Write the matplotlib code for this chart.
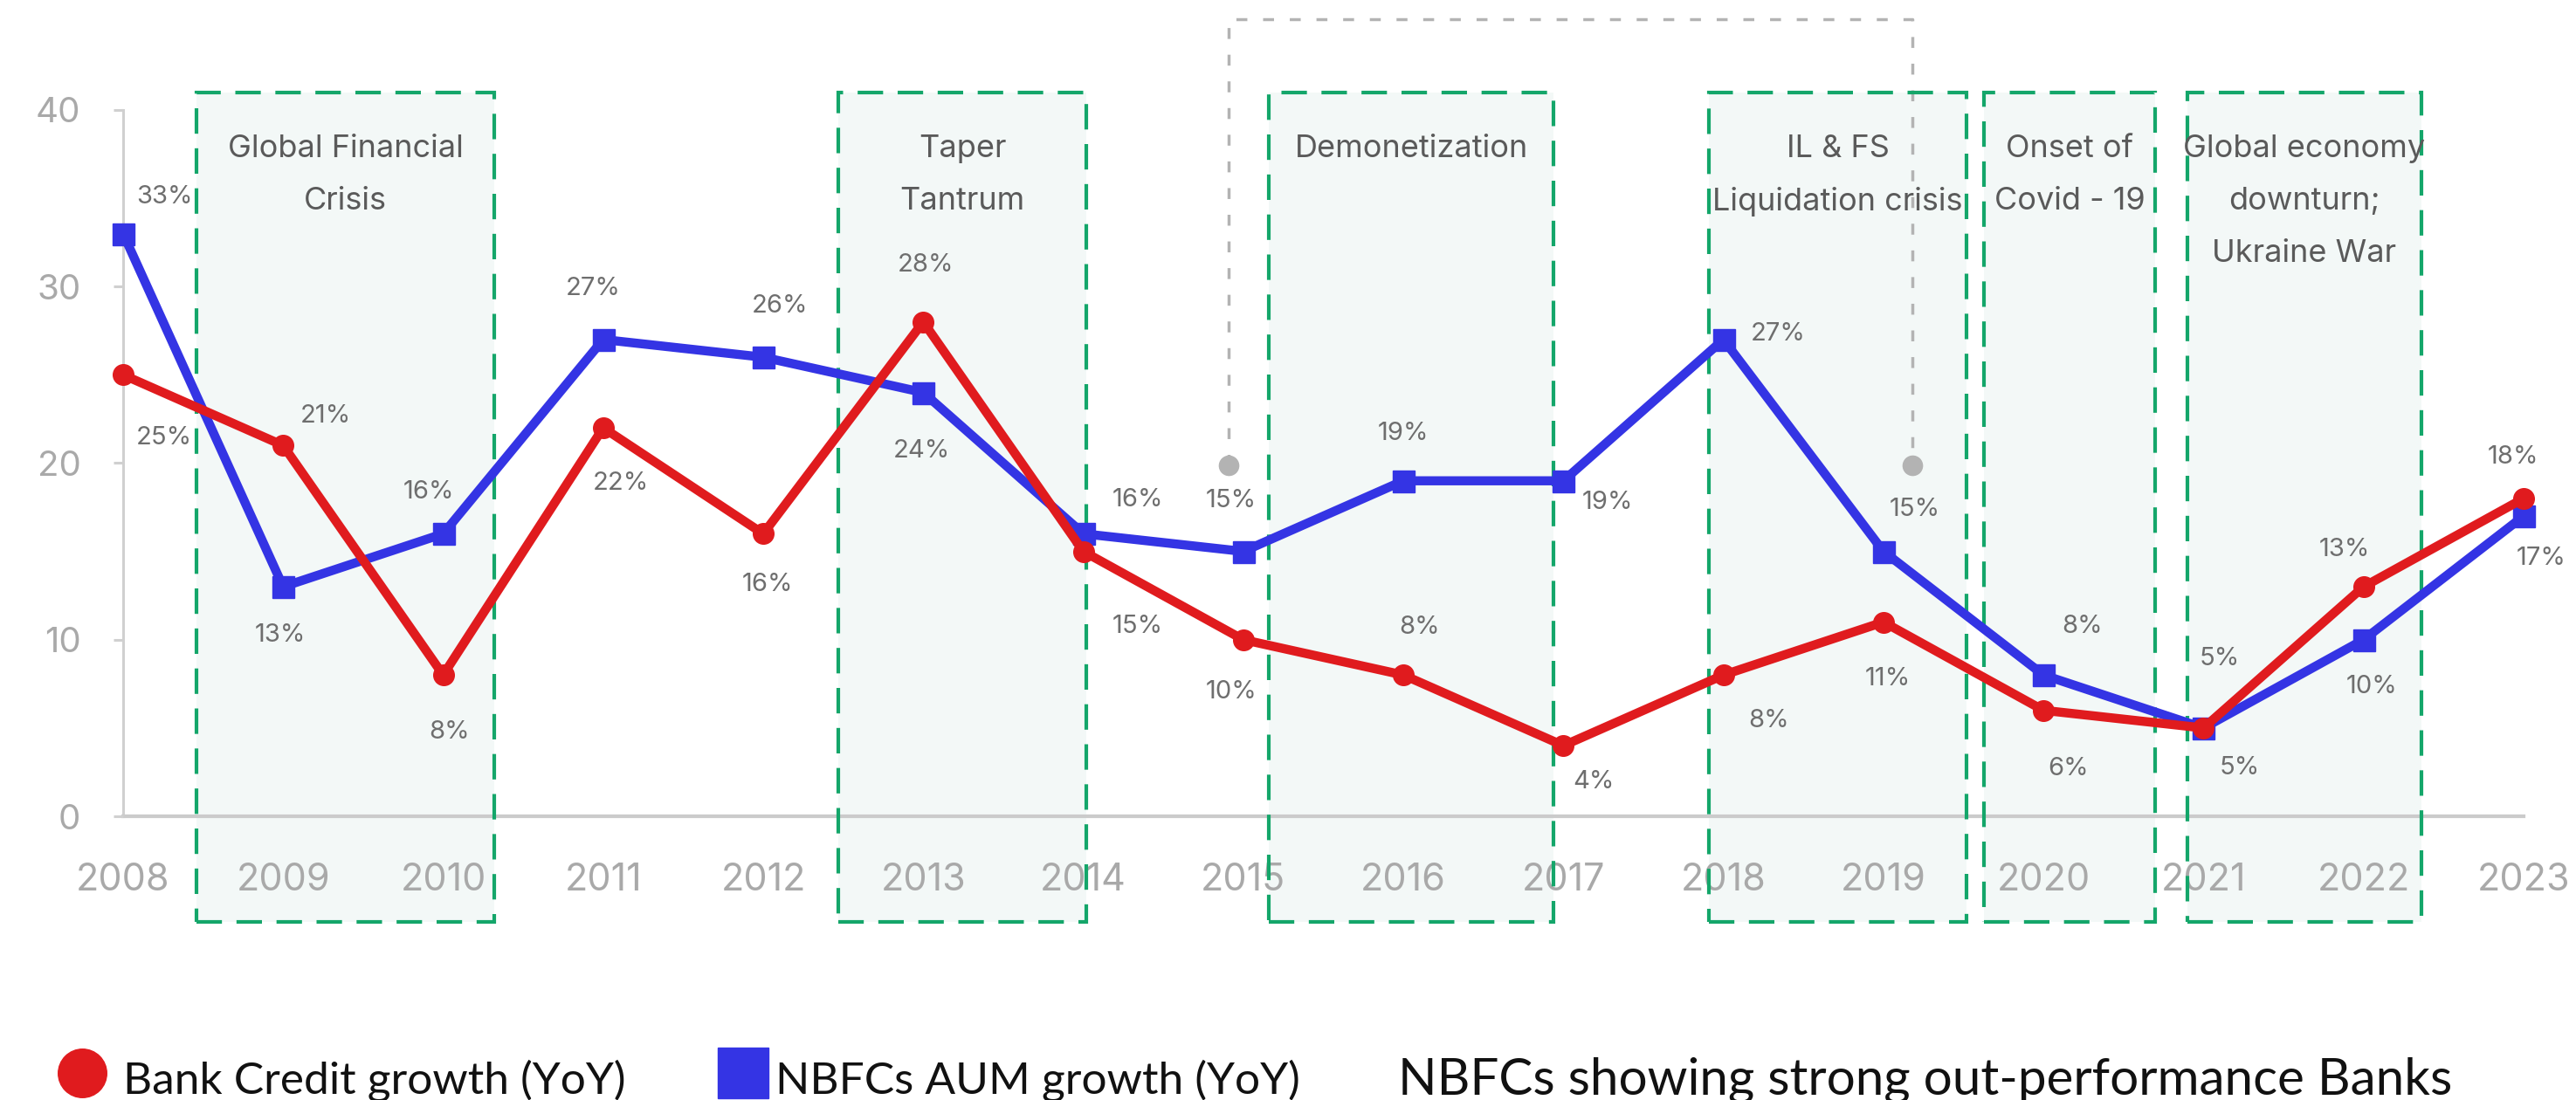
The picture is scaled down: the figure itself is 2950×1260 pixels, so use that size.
import matplotlib
matplotlib.use("Agg")
import matplotlib.pyplot as plt
from matplotlib.patches import Rectangle
from matplotlib.lines import Line2D

# ---- data ----
years = list(range(2008, 2024))
bank_credit_growth = [25, 21, 8, 22, 16, 28, 15, 10, 8, 4, 8, 11, 6, 5, 13, 18]
nbfc_aum_growth = [33, 13, 16, 27, 26, 24, 16, 15, 19, 19, 27, 15, 8, 5, 10, 17]
y_ticks = [0, 10, 20, 30, 40]

crisis_starts = [2008.46, 2012.47, 2015.16, 2017.91, 2019.63, 2020.90]
crisis_ends = [2010.32, 2014.02, 2016.94, 2019.52, 2020.70, 2022.36]
crisis_labels = [
    "Global Financial\nCrisis",
    "Taper\nTantrum",
    "Demonetization",
    "IL & FS\nLiquidation crisis",
    "Onset of\nCovid - 19",
    "Global economy\ndownturn;\nUkraine War",
]

legend_labels = ["Bank Credit growth (YoY)", "NBFCs AUM growth (YoY)"]
footnote = "NBFCs showing strong out-performance Banks"

# value-label offsets in pixels (dx, dy), one per point
bank_label_offsets = [(47, -72), (49, 34), (7, -65), (20, -63), (5, -58), (3, 65),
                      (62, -86), (-14, -60), (18, 55), (35, -41), (52, -52), (5, -65),
                      (28, -67), (18, 79), (-22, 43), (-12, 47)]
nbfc_label_offsets = [(47, 42), (-3, -55), (-17, 48), (-12, 58), (19, 59), (-2, -67),
                      (62, 39), (-14, 58), (0, 54), (51, -25), (63, 6), (36, 48),
                      (44, 56), (41, -46), (9, -54), (20, -48)]

# ---- style ----
RED = "#e01b1e"
BLUE = "#3434e4"
GREEN = "#14a66a"
BOX_FILL = "#f3f8f7"
TICK_GREY = "#a9a9a9"
LABEL_GREY = "#6e6e6e"
TEXT_GREY = "#5a5a5a"
AXIS_GREY = "#d0d0d0"

plt.rcParams["font.family"] = ["Inter", "DejaVu Sans"]

W, H = 2950, 1260
fig = plt.figure(figsize=(W / 100, H / 100), dpi=100)
fig.patch.set_facecolor("white")

ax = fig.add_axes([141 / W, (H - 935) / H, 2749 / W, 809 / H])
ax.set_xlim(2008, 2023)
ax.set_ylim(0, 40)
ax.set_facecolor("none")

# spines and ticks
for side in ("top", "right"):
    ax.spines[side].set_visible(False)
ax.spines["left"].set_color(AXIS_GREY)
ax.spines["left"].set_linewidth(2.2)
ax.spines["bottom"].set_color("#cbcbcb")
ax.spines["bottom"].set_linewidth(3)
ax.spines["left"].set_zorder(1)
ax.spines["bottom"].set_zorder(1)

ax.set_yticks(y_ticks)
ax.set_yticklabels([str(t) for t in y_ticks])
ax.set_xticks(years)
ax.set_xticklabels([str(y) for y in years])
ax.tick_params(axis="y", length=8, width=2.2, color=AXIS_GREY, pad=27,
               labelsize=29, labelcolor=TICK_GREY)
ax.tick_params(axis="x", length=0, pad=38, labelsize=31, labelcolor=TICK_GREY)

# crisis period boxes
box_bottom, box_top = -5.98, 40.99
for x0, x1, label in zip(crisis_starts, crisis_ends, crisis_labels):
    fill = Rectangle((x0, box_bottom), x1 - x0, box_top - box_bottom,
                     facecolor=BOX_FILL, edgecolor="none", zorder=0, clip_on=False)
    ax.add_patch(fill)
    edge = Rectangle((x0, box_bottom), x1 - x0, box_top - box_bottom,
                     facecolor="none", edgecolor=GREEN, lw=3.0,
                     linestyle=(0, (7, 4)), zorder=2, clip_on=False)
    ax.add_patch(edge)
    xc = (x0 + x1) / 2
    for j, line in enumerate(label.split("\n")):
        ax.text(xc, 37.8 - j * 2.97, line, ha="center", va="center",
                fontsize=26, color=TEXT_GREY, zorder=6)

# dotted bracket linking 2015 and 2019
bx0, bx1, by0, by1 = 2014.908, 2019.18, 19.88, 45.14
ax.plot([bx0, bx0, bx1, bx1], [by0, by1, by1, by0], color="#b3b3b3", lw=2.5,
        linestyle=(0, (3.6, 5.2)), clip_on=False, zorder=1)
ax.plot([bx0, bx1], [by0, by0], linestyle="none", marker="o", ms=16,
        color="#b3b3b3", clip_on=False, zorder=1)

# series
ax.plot(years, nbfc_aum_growth, color=BLUE, lw=7.5, marker="s", ms=18,
        clip_on=False, zorder=4, solid_joinstyle="round")
ax.plot(years, bank_credit_growth, color=RED, lw=7.5, marker="o", ms=17,
        clip_on=False, zorder=5, solid_joinstyle="round")

# value labels
for x, v, (dx, dy) in zip(years, bank_credit_growth, bank_label_offsets):
    ax.annotate(f"{v}%", (x, v), xytext=(dx, dy), textcoords="offset pixels",
                ha="center", va="center", fontsize=21, color=LABEL_GREY,
                annotation_clip=False, zorder=7)
for x, v, (dx, dy) in zip(years, nbfc_aum_growth, nbfc_label_offsets):
    ax.annotate(f"{v}%", (x, v), xytext=(dx, dy), textcoords="offset pixels",
                ha="center", va="center", fontsize=21, color=LABEL_GREY,
                annotation_clip=False, zorder=7)

# legend row
leg_font = ["Lato", "DejaVu Sans"]
fig.add_artist(Line2D([94 / W], [1 - 1229 / H], marker="o", ms=40,
                      color=RED, linestyle="none"))
fig.text(141 / W, 1 - 1252 / H, legend_labels[0], family=leg_font, fontsize=37,
         color="#111111", va="baseline", ha="left")
fig.add_artist(Line2D([851 / W], [1 - 1229 / H], marker="s", ms=42,
                      color=BLUE, linestyle="none"))
fig.text(888 / W, 1 - 1252 / H, legend_labels[1], family=leg_font, fontsize=37,
         color="#111111", va="baseline", ha="left")
fig.text(1601 / W, 1 - 1253 / H, footnote, family=leg_font, fontsize=42,
         color="#111111", va="baseline", ha="left")

fig.savefig("out.png", dpi=100, facecolor="white")
